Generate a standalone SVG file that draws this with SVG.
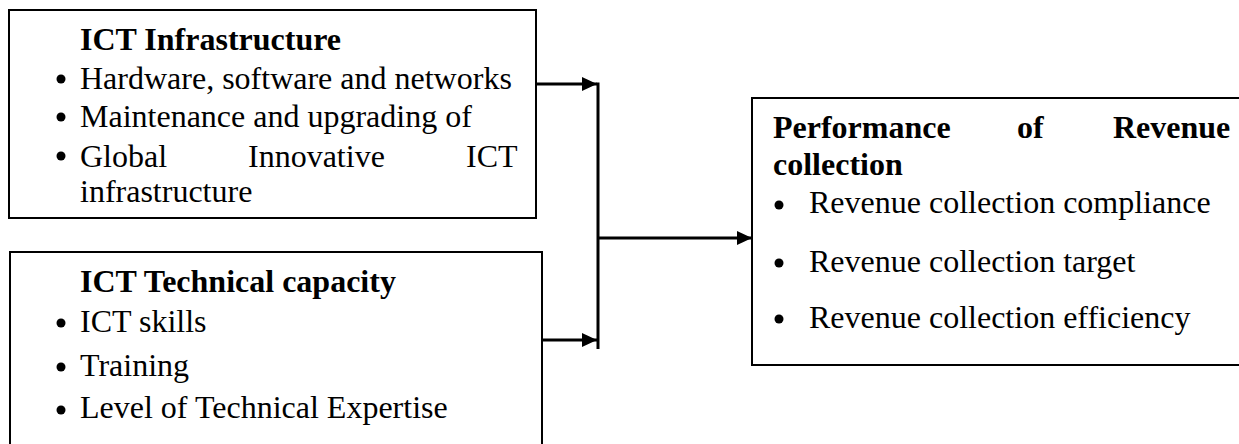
<svg xmlns="http://www.w3.org/2000/svg" width="1239" height="444" viewBox="0 0 1239 444">
<style>
.box{fill:#fff;stroke:#000;stroke-width:2}
.t{font-family:"Liberation Serif","Times New Roman",serif;font-size:32px;fill:#000}
.b{font-weight:bold}
.dot{fill:#000}
.conn{stroke:#000;stroke-width:3;fill:none}
</style>
<defs>
<marker id="ah" markerUnits="userSpaceOnUse" markerWidth="15" markerHeight="14" refX="15" refY="7" orient="auto">
<path d="M0,0 L15,7 L0,14 z" fill="#000"/>
</marker>
</defs>
<rect width="1239" height="444" fill="#fff"/>
<g id="node-ict-infrastructure">
<rect class="box" x="9" y="10" width="527" height="208"/>
<text class="t b" x="80" y="50">ICT Infrastructure</text>
<circle class="dot" cx="61" cy="79" r="4.5"/>
<text class="t" x="80" y="89">Hardware, software and networks</text>
<circle class="dot" cx="61" cy="117" r="4.5"/>
<text class="t" x="80" y="127">Maintenance and upgrading of</text>
<circle class="dot" cx="61" cy="156" r="4.5"/>
<text class="t" x="80" y="167">Global</text>
<text class="t" x="248" y="167">Innovative</text>
<text class="t" x="466" y="167">ICT</text>
<text class="t" x="80" y="202">infrastructure</text>
</g>
<g id="node-ict-technical-capacity">
<rect class="box" x="10" y="252" width="532" height="210"/>
<text class="t b" x="80" y="292">ICT Technical capacity</text>
<circle class="dot" cx="61" cy="323" r="4.5"/>
<text class="t" x="80" y="332">ICT skills</text>
<circle class="dot" cx="61" cy="367" r="4.5"/>
<text class="t" x="80" y="376">Training</text>
<circle class="dot" cx="61" cy="410" r="4.5"/>
<text class="t" x="80" y="418">Level of Technical Expertise</text>
</g>
<g id="node-performance">
<rect class="box" x="752" y="98" width="500" height="267"/>
<text class="t b" x="773" y="138">Performance</text>
<text class="t b" x="1017" y="138">of</text>
<text class="t b" x="1113" y="138">Revenue</text>
<text class="t b" x="773" y="175">collection</text>
<circle class="dot" cx="779" cy="205" r="4.5"/>
<text class="t" x="809" y="213">Revenue collection compliance</text>
<circle class="dot" cx="779" cy="263" r="4.5"/>
<text class="t" x="809" y="272">Revenue collection target</text>
<circle class="dot" cx="779" cy="319" r="4.5"/>
<text class="t" x="809" y="328">Revenue collection efficiency</text>
</g>
<g id="connectors">
<line class="conn" x1="537" y1="84" x2="597" y2="84" marker-end="url(#ah)"/>
<line class="conn" x1="543" y1="340" x2="597" y2="340" marker-end="url(#ah)"/>
<line class="conn" x1="598" y1="82.5" x2="598" y2="349"/>
<line class="conn" x1="599" y1="238" x2="752" y2="238" marker-end="url(#ah)"/>
</g>
</svg>
